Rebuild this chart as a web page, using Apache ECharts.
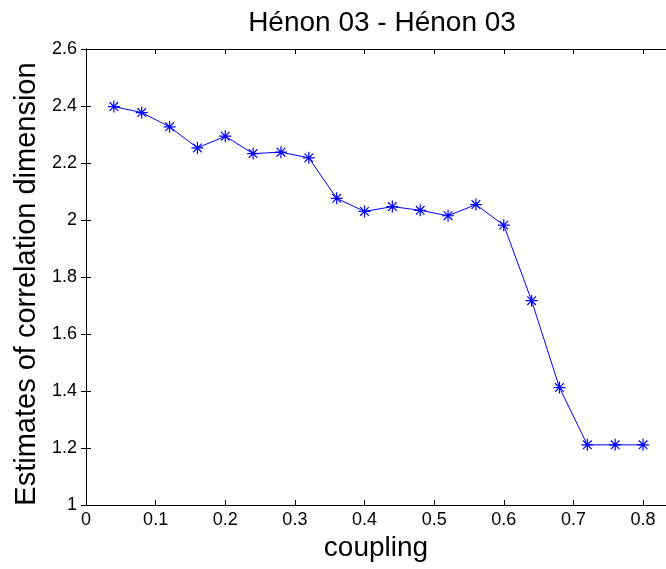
<!DOCTYPE html>
<html>
<head>
<meta charset="utf-8">
<script src="https://cdn.jsdelivr.net/npm/echarts@6/dist/echarts.min.js"></script>
<style>
  html, body { margin: 0; padding: 0; background: #fff; }
  #chart { width: 666px; height: 569px; }
</style>
</head>
<body>
<div id="chart"></div>
<script>
// Coupling strengths and the estimated correlation dimension at each
const coupling = [0.04, 0.08, 0.12, 0.16, 0.20, 0.24, 0.28, 0.32, 0.36, 0.40,
                  0.44, 0.48, 0.52, 0.56, 0.60, 0.64, 0.68, 0.72, 0.76, 0.80];
const dimension = [2.398, 2.377, 2.327, 2.253, 2.294, 2.233, 2.238, 2.218, 2.076, 2.030,
                   2.047, 2.034, 2.015, 2.054, 1.982, 1.717, 1.412, 1.211, 1.211, 1.211];

const titleText = 'Hénon 03 - Hénon 03';
const xName = 'coupling';
const yName = 'Estimates of correlation dimension';

const FONT = '"Liberation Sans", Arial, Helvetica, sans-serif';
const BLUE = '#0000ff';
// eight-armed asterisk marker
const asterisk = 'path://M0,-5L0,5M-5,0L5,0M-3.6,-3.6L3.6,3.6M-3.6,3.6L3.6,-3.6';

const chart = echarts.init(document.getElementById('chart'), null, { renderer: 'canvas' });

const tickStyle = { show: true, inside: true, length: 5, lineStyle: { color: '#000', width: 1 } };
const lineStyle = { show: true, lineStyle: { color: '#000', width: 1 } };

chart.setOption({
  animation: false,
  backgroundColor: '#fff',
  title: {
    text: titleText,
    left: 377,
    top: 4,
    textAlign: 'center',
    textStyle: { fontFamily: FONT, fontSize: 28, fontWeight: 'normal', color: '#000' }
  },
  grid: { left: 86, right: 0, top: 49, bottom: 64, containLabel: false },
  xAxis: [{
    type: 'value',
    min: 0, max: 0.833, interval: 0.1,
    position: 'bottom',
    name: xName,
    nameLocation: 'middle',
    nameGap: 28,
    nameTextStyle: { fontFamily: FONT, fontSize: 28, color: '#000' },
    axisLine: lineStyle,
    axisTick: tickStyle,
    axisLabel: {
      fontFamily: FONT, fontSize: 18, color: '#000', margin: 6,
      showMaxLabel: false,
      formatter: v => (v > 0.81 ? '' : String(Math.round(v * 10) / 10))
    },
    splitLine: { show: false }
  }, {
    type: 'value',
    min: 0, max: 0.833, interval: 0.1,
    position: 'top',
    axisLine: lineStyle,
    axisTick: tickStyle,
    axisLabel: { show: false },
    splitLine: { show: false }
  }],
  yAxis: [{
    type: 'value',
    min: 1, max: 2.6, interval: 0.2,
    position: 'left',
    name: yName,
    nameLocation: 'middle',
    nameGap: 44,
    nameTextStyle: { fontFamily: FONT, fontSize: 29, color: '#000', padding: [0, 14, 0, 0] },
    axisLine: lineStyle,
    axisTick: tickStyle,
    axisLabel: {
      fontFamily: FONT, fontSize: 18, color: '#000', margin: 9,
      formatter: v => String(Math.round(v * 10) / 10)
    },
    splitLine: { show: false }
  }, {
    type: 'value',
    min: 1, max: 2.6, interval: 0.2,
    position: 'right',
    axisLine: lineStyle,
    axisTick: tickStyle,
    axisLabel: { show: false },
    splitLine: { show: false }
  }],
  series: [{
    type: 'line',
    data: coupling.map((c, i) => [c, dimension[i]]),
    symbol: asterisk,
    symbolSize: 12,
    showAllSymbol: true,
    lineStyle: { color: BLUE, width: 1 },
    itemStyle: { color: BLUE, borderColor: BLUE, borderWidth: 1.2 }
  }]
});
</script>
</body>
</html>
